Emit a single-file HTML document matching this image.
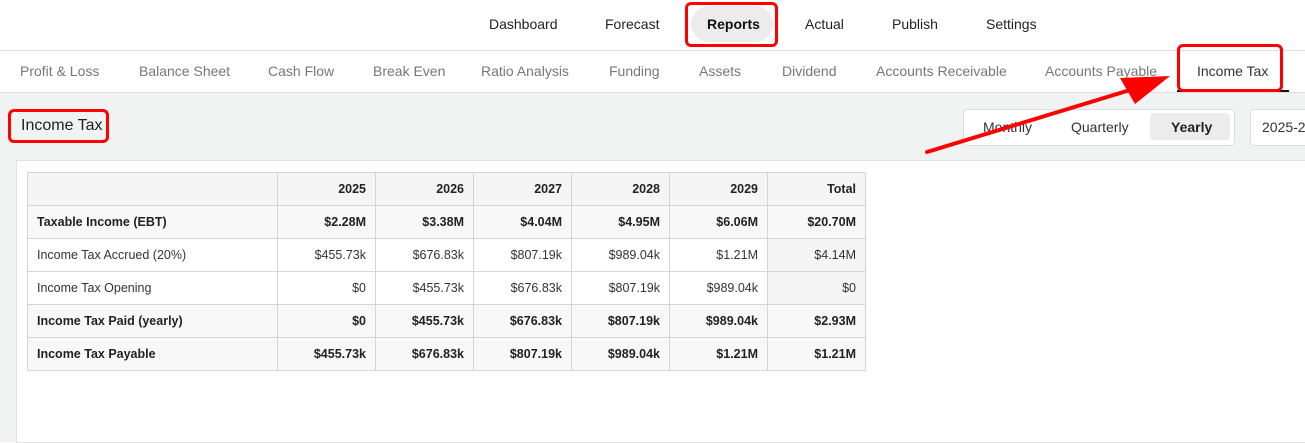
<!DOCTYPE html>
<html><head><style>
body{margin:0;width:1305px;height:441px;overflow:hidden;background:#fff;font-family:"Liberation Sans",Arial,sans-serif;position:relative}
.a{position:absolute;white-space:nowrap}
.top{font-size:14px;color:#222;top:16px}
.sub{font-size:14px;color:#777;top:63px}
table{position:absolute;left:27px;top:172px;border-collapse:collapse;font-size:12.5px;color:#333}
td{border:1px solid #d4d4d4;height:33px;padding:0 9px;text-align:right;box-sizing:border-box}
td:first-child{text-align:left;width:250px}
td.n{width:98px}
tr.b td{font-weight:bold;color:#222;background:#f8f8f8}
tr.h td{background:#f5f5f5;font-weight:bold;color:#222}
td.t{background:#f5f5f5}
.red{position:absolute;border:3px solid #f00;border-radius:6px;box-sizing:border-box}
</style></head><body>
<div class="a top" style="left:489px">Dashboard</div>
<div class="a top" style="left:605px">Forecast</div>
<div class="a" style="left:691px;top:6px;width:82px;height:36px;background:#ececec;border-radius:18px"></div>
<div class="a top" style="left:707px;font-weight:bold;color:#111">Reports</div>
<div class="red" style="left:685px;top:2px;width:93px;height:45px"></div>
<div class="a top" style="left:805px">Actual</div>
<div class="a top" style="left:892px">Publish</div>
<div class="a top" style="left:986px">Settings</div>
<div class="a" style="left:0;top:50px;width:1305px;height:1px;background:#ddd"></div>
<div class="a sub" style="left:20px">Profit &amp; Loss</div>
<div class="a sub" style="left:139px">Balance Sheet</div>
<div class="a sub" style="left:268px">Cash Flow</div>
<div class="a sub" style="left:373px">Break Even</div>
<div class="a sub" style="left:481px">Ratio Analysis</div>
<div class="a sub" style="left:609px">Funding</div>
<div class="a sub" style="left:699px">Assets</div>
<div class="a sub" style="left:782px">Dividend</div>
<div class="a sub" style="left:876px">Accounts Receivable</div>
<div class="a sub" style="left:1045px">Accounts Payable</div>
<div class="a sub" style="left:1197px;color:#333">Income Tax</div>
<div class="a" style="left:1177px;top:90px;width:112px;height:3px;background:#111"></div>
<div class="red" style="left:1177px;top:44px;width:106px;height:48px"></div>
<div class="a" style="left:0;top:92px;width:1305px;height:349px;background:#f1f2f2;border-top:1px solid #ddd"></div>
<div class="a" style="left:21px;top:117px;font-size:16px;color:#222">Income Tax</div>
<div class="red" style="left:8px;top:109px;width:101px;height:34px"></div>
<div class="a" style="left:963px;top:109px;width:270px;height:35px;background:#fff;border:1px solid #ddd;border-radius:4px"></div>
<div class="a" style="left:1150px;top:113px;width:80px;height:27px;background:#ececec;border-radius:4px"></div>
<div class="a" style="left:983px;top:119px;font-size:14px;color:#333">Monthly</div>
<div class="a" style="left:1071px;top:119px;font-size:14px;color:#333">Quarterly</div>
<div class="a" style="left:1171px;top:119px;font-size:14px;color:#222;font-weight:bold">Yearly</div>
<div class="a" style="left:1250px;top:109px;width:60px;height:35px;background:#fff;border:1px solid #ddd;border-radius:4px"></div>
<div class="a" style="left:1262px;top:119px;font-size:14px;color:#333">2025-2</div>
<div class="a" style="left:16px;top:160px;width:1289px;height:281px;background:#fff;border:1px solid #e2e2e2"></div>
<table>
<tr class="h"><td></td><td class="n">2025</td><td class="n">2026</td><td class="n">2027</td><td class="n">2028</td><td class="n">2029</td><td class="n">Total</td></tr>
<tr class="b"><td>Taxable Income (EBT)</td><td>$2.28M</td><td>$3.38M</td><td>$4.04M</td><td>$4.95M</td><td>$6.06M</td><td class="t">$20.70M</td></tr>
<tr><td>Income Tax Accrued (20%)</td><td>$455.73k</td><td>$676.83k</td><td>$807.19k</td><td>$989.04k</td><td>$1.21M</td><td class="t">$4.14M</td></tr>
<tr><td>Income Tax Opening</td><td>$0</td><td>$455.73k</td><td>$676.83k</td><td>$807.19k</td><td>$989.04k</td><td class="t">$0</td></tr>
<tr class="b"><td>Income Tax Paid (yearly)</td><td>$0</td><td>$455.73k</td><td>$676.83k</td><td>$807.19k</td><td>$989.04k</td><td class="t">$2.93M</td></tr>
<tr class="b"><td>Income Tax Payable</td><td>$455.73k</td><td>$676.83k</td><td>$807.19k</td><td>$989.04k</td><td>$1.21M</td><td class="t">$1.21M</td></tr>
</table>
<svg class="a" style="left:0;top:0" width="1305" height="441">
<line x1="927" y1="152" x2="1130" y2="90" stroke="#f00" stroke-width="4" stroke-linecap="round"/>
<polygon points="1170,76 1120,78 1135,104" fill="#f00"/>
</svg>
</body></html>
